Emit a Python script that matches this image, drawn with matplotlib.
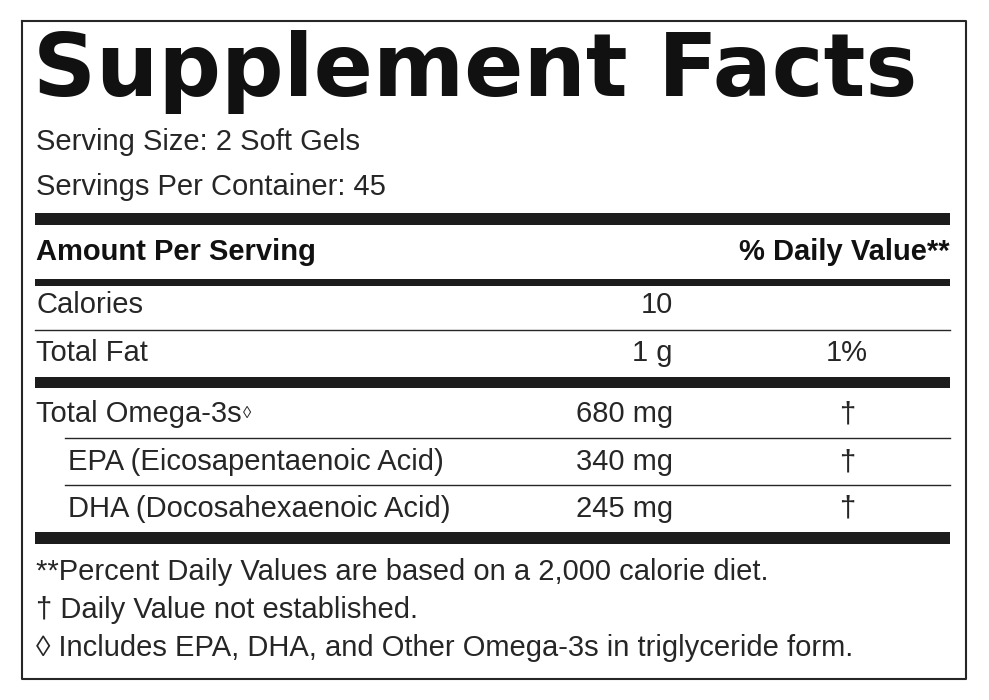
import matplotlib.pyplot as plt

W, H = 989, 700
ink = '#262626'
narrow = ['Liberation Sans', 'DejaVu Sans']

serving = ["Serving Size: 2 Soft Gels", "Servings Per Container: 45"]
rows = ["Calories", "Total Fat", "Total Omega-3s",
        "EPA (Eicosapentaenoic Acid)", "DHA (Docosahexaenoic Acid)"]
amounts = ["10", "1 g", "680 mg", "340 mg", "245 mg"]
daily = ["", "1%", "\u2020", "\u2020", "\u2020"]
indent = [0, 0, 0, 1, 1]
notes = ["**Percent Daily Values are based on a 2,000 calorie diet.",
         "\u2020 Daily Value not established.",
         "\u25ca Includes EPA, DHA, and Other Omega-3s in triglyceride form."]

row_y = [305, 353, 414, 462, 509]
note_y = [572, 610, 648]

fig = plt.figure(figsize=(W/100, H/100), dpi=100)
ax = fig.add_axes([0, 0, 1, 1])
ax.set_xlim(0, W)
ax.set_ylim(H, 0)
ax.axis('off')

# outer frame
ax.plot([22, 966, 966, 22, 22], [21, 21, 679, 679, 21], color=ink, lw=1.5)

ax.text(33, 72, "Supplement Facts", fontsize=63, fontweight='heavy',
        family=['DejaVu Sans'], color='#111111', va='center', ha='left')

for s, y in zip(serving, [142, 187]):
    ax.text(36, y, s, fontsize=21, family=narrow, color=ink, va='center')

def bar(y, th, x0=35):
    ax.fill_between([x0, 950], y - th/2, y + th/2, color='#1c1c1c', lw=0)

bar(219, 12)
ax.text(36, 252, "Amount Per Serving", fontsize=21, fontweight='bold',
        family=narrow, color='#111111', va='center')
ax.text(950, 252, "% Daily Value**", fontsize=21, fontweight='bold',
        family=narrow, color='#111111', va='center', ha='right')
bar(282, 7)

for i, (name, amt, dv, ind, y) in enumerate(zip(rows, amounts, daily, indent, row_y)):
    t = ax.text(36 + 32*ind, y, name, fontsize=21, family=narrow, color=ink, va='center')
    if i == 2:
        ax.annotate("\u25ca", xy=(1, 1), xycoords=t, xytext=(1, -4),
                    textcoords='offset points', fontsize=12, family=narrow,
                    color=ink, va='top', ha='left')
    ax.text(673, y, amt, fontsize=21, family=narrow, color=ink, va='center', ha='right')
    if dv:
        ax.text(847, y, dv, fontsize=21, family=narrow, color=ink, va='center', ha='center')

ax.plot([35, 950], [330, 330], color=ink, lw=1)
bar(382, 11)
ax.plot([65, 950], [438, 438], color=ink, lw=1)
ax.plot([65, 950], [485, 485], color=ink, lw=1)
bar(538, 12)

for s, y in zip(notes, note_y):
    ax.text(36, y, s, fontsize=21, family=narrow, color=ink, va='center')

fig.savefig('out.png', dpi=100, facecolor='white')
